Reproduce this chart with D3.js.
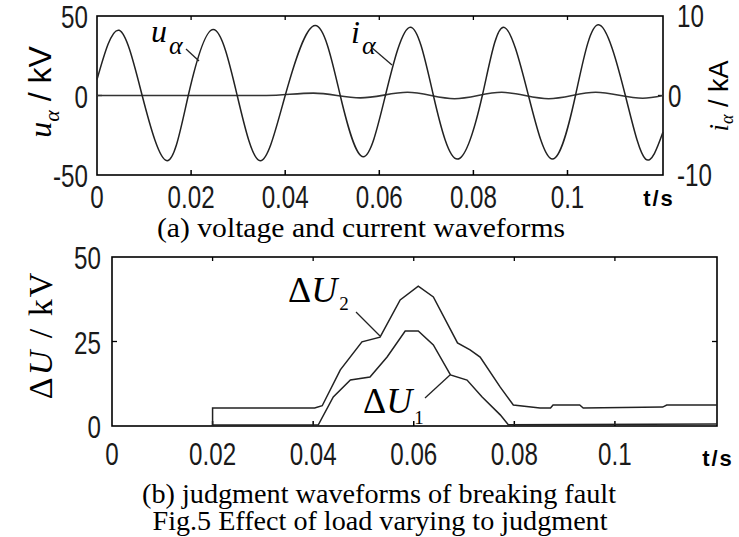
<!DOCTYPE html>
<html lang="en">
  <head>
    <meta charset="UTF-8" />
    <title>Fig.5 Effect of load varying to judgment</title>
    <script src="https://d3js.org/d3.v7.min.js"></script>
    <style>
      body { margin: 0; background: #fff; }
      .tick-label { font-family: "Liberation Sans", Arial, sans-serif; font-size: 31px; fill: #1a1a1a; }
      .caption { font-family: "Liberation Serif", "Times New Roman", serif; font-size: 27px; fill: #000; }
    </style>
  </head>
  <body>
    <div id="viz"></div>
    <script>
      // ---- data ----
      // (a) voltage u_a (kV): peaks, troughs and zero crossings
      const uTime = [0, 0.0047, 0.0096, 0.0149, 0.0194, 0.0247, 0.0298, 0.0347, 0.0400, 0.0464, 0.0517, 0.0566,
        0.0613, 0.0666, 0.0715, 0.0766, 0.0819, 0.0864, 0.0917, 0.0968, 0.1017, 0.1066, 0.1123, 0.1166, 0.1203];
      const uVolt = [10, 41, 0, -41, 0, 41.5, 0, -41, 0, 44, 0, -38.5,
        0, 43, 0, -40, 0, 43, 0, -40, 0, 44.5, 0, -40, -23];

      // (a) current i_a (kA), right axis
      const iTime = [0, 0.036, 0.046, 0.056, 0.066, 0.076, 0.086, 0.096, 0.106, 0.116, 0.1203];
      const iAmp = [0, 0, 0.3, -0.3, 0.4, -0.4, 0.4, -0.4, 0.4, -0.35, 0];

      // (b) judgment waveforms (kV)
      const du2Time = [0.02, 0.02, 0.0403, 0.0418, 0.0454, 0.0497, 0.0533, 0.0573, 0.0609, 0.0639, 0.0687, 0.0712,
        0.0732, 0.0772, 0.0798, 0.0851, 0.0872, 0.0877, 0.0930, 0.0937, 0.1095, 0.1103, 0.1203];
      const du2Val = [0, 5.3, 5.3, 6, 16.6, 24.9, 26.3, 37.3, 41.4, 38.2, 24.6, 22.5,
        20.4, 11.5, 6.2, 5.3, 5.3, 6.2, 6.2, 5.3, 5.6, 6.2, 6.2];

      const du1Time = [0.02, 0.041, 0.044, 0.0474, 0.0513, 0.0547, 0.0583, 0.0609, 0.0639, 0.0673, 0.0706,
        0.0736, 0.0772, 0.0788, 0.1203];
      const du1Val = [0.3, 0.3, 8.6, 13.6, 14.5, 20.4, 28.1, 28.1, 24, 15.1, 13.6, 8.6, 3.3, 0.4, 0.6];

      const xTicks = [0, 0.02, 0.04, 0.06, 0.08, 0.1];
      const xTickLabels = ["0", "0.02", "0.04", "0.06", "0.08", "0.1"];
      const uTicks = [-50, 0, 50];
      const iTicks = [-10, 0, 10];
      const duTicks = [0, 25, 50];

      const W = 739, H = 537;
      const svg = d3.select("#viz").append("svg").attr("width", W).attr("height", H);

      const tMax = 0.1203;

      // top panel
      const xa = d3.scaleLinear().domain([0, tMax]).range([97, 663]);
      const ya = d3.scaleLinear().domain([-50, 50]).range([175, 16]);
      const yi = d3.scaleLinear().domain([-10, 10]).range([175, 16]);

      // bottom panel
      const xb = d3.scaleLinear().domain([0, tMax]).range([112, 717]);
      const yb = d3.scaleLinear().domain([0, 50]).range([426, 257]);

      function frame(x, y, yTicks) {
        const g = svg.append("g");
        const [x0, x1] = x.range(), [y0, y1] = y.range();
        g.append("rect")
          .attr("x", x0).attr("y", y1)
          .attr("width", x1 - x0).attr("height", y0 - y1)
          .attr("fill", "none").attr("stroke", "#000").attr("stroke-width", 1.6);
        // inward ticks, top and bottom
        xTicks.slice(1).forEach(t => {
          g.append("line").attr("x1", x(t)).attr("x2", x(t)).attr("y1", y0).attr("y2", y0 - 5)
            .attr("stroke", "#000").attr("stroke-width", 1.5);
          g.append("line").attr("x1", x(t)).attr("x2", x(t)).attr("y1", y1).attr("y2", y1 + 4)
            .attr("stroke", "#000").attr("stroke-width", 1.3);
        });
        yTicks.slice(1, -1).forEach(v => {
          g.append("line").attr("x1", x0).attr("x2", x0 + 5).attr("y1", y(v)).attr("y2", y(v))
            .attr("stroke", "#000").attr("stroke-width", 1.3);
          g.append("line").attr("x1", x1).attr("x2", x1 - 5).attr("y1", y(v)).attr("y2", y(v))
            .attr("stroke", "#000").attr("stroke-width", 1.3);
        });
        return g;
      }

      frame(xa, ya, uTicks);
      frame(xb, yb, duTicks);

      // condensed tick label: the original digits are narrow
      function tickText(x, y, anchor, str) {
        svg.append("text").attr("class", "tick-label")
          .attr("transform", "translate(" + x + "," + y + ") scale(0.78,1)")
          .attr("text-anchor", anchor)
          .text(str);
      }

      xTicks.forEach((t, i) => tickText(xa(t), 208, "middle", xTickLabels[i]));
      xTicks.forEach((t, i) => tickText(xb(t), 465, "middle", xTickLabels[i]));
      uTicks.forEach(v => tickText(88, ya(v) + 12, "end", v));
      iTicks.forEach(v => tickText(v === 0 ? 668 : 677, yi(v) + 11, "start", v));
      duTicks.forEach(v => tickText(101, yb(v) + 12, "end", v));

      // t/s unit labels
      [[659, 206], [718, 466]].forEach(p => {
        svg.append("text")
          .attr("x", p[0]).attr("y", p[1]).attr("text-anchor", "middle")
          .style("font-family", "'Liberation Sans', Arial, sans-serif").style("font-size", "22px")
          .style("font-weight", "bold").style("letter-spacing", "2px")
          .text("t/s");
      });

      // curves
      const lineA = d3.line().x(d => xa(d[0])).y(d => ya(d[1])).curve(d3.curveNatural);
      const lineI = d3.line().x(d => xa(d[0])).y(d => yi(d[1])).curve(d3.curveMonotoneX);
      const lineB = d3.line().x(d => xb(d[0])).y(d => yb(d[1]));

      svg.append("path").datum(d3.zip(iTime, iAmp)).attr("d", lineI)
        .attr("fill", "none").attr("stroke", "#333").attr("stroke-width", 1.6);
      svg.append("path").datum(d3.zip(uTime, uVolt)).attr("d", lineA)
        .attr("fill", "none").attr("stroke", "#222").attr("stroke-width", 1.5);

      svg.append("path").datum(d3.zip(du1Time, du1Val)).attr("d", lineB)
        .attr("fill", "none").attr("stroke", "#222").attr("stroke-width", 1.5);
      svg.append("path").datum(d3.zip(du2Time, du2Val)).attr("d", lineB)
        .attr("fill", "none").attr("stroke", "#222").attr("stroke-width", 1.5);

      // in-plot labels with leader lines
      function leader(x1, y1, x2, y2) {
        svg.append("line").attr("x1", x1).attr("y1", y1).attr("x2", x2).attr("y2", y2)
          .attr("stroke", "#222").attr("stroke-width", 1.3);
      }
      function subLabel(x, y, main, sub, size, subSize, dy, mainItalic, subItalic) {
        const t = svg.append("text").attr("x", x).attr("y", y)
          .style("font-family", "'Liberation Serif', 'Times New Roman', serif").style("font-size", size + "px");
        if (mainItalic) {
          t.append("tspan").style("font-style", "italic").text(main);
        } else {
          t.append("tspan").text(main.charAt(0));
          t.append("tspan").style("font-style", "italic").text(main.slice(1));
        }
        t.append("tspan").attr("dy", dy).attr("dx", 2).style("font-size", subSize + "px")
          .style("font-style", subItalic ? "italic" : "normal").text(sub);
      }

      subLabel(151, 42, "u", "α", 32, 26, 12, true, true);
      leader(186, 49, 199, 61);
      subLabel(351, 43, "i", "α", 32, 26, 11, true, true);
      leader(371, 47, 392, 65);

      subLabel(288, 302, "\u0394U", "2", 36, 19, 8, false, false);
      leader(356, 312, 380, 336);
      subLabel(363, 413, "\u0394U", "1", 36, 19, 11, false, false);
      leader(425, 398, 450, 375);

      // axis titles
      const tA = svg.append("text").attr("transform", "translate(51,92) rotate(-90)")
        .attr("text-anchor", "middle").style("font-size", "32px");
      tA.append("tspan").style("font-family", "'Liberation Serif', serif").style("font-style", "italic").text("u");
      tA.append("tspan").attr("dy", 8).style("font-family", "'Liberation Serif', serif")
        .style("font-style", "italic").style("font-size", "22px").text("α");
      tA.append("tspan").attr("dy", -8).style("font-family", "'Liberation Sans', sans-serif").text(" / kV");

      const tI = svg.append("text").attr("transform", "translate(728,96) rotate(-90)")
        .attr("text-anchor", "middle").style("font-size", "27px");
      tI.append("tspan").style("font-family", "'Liberation Serif', serif").style("font-style", "italic").text("i");
      tI.append("tspan").attr("dy", 5).style("font-family", "'Liberation Serif', serif")
        .style("font-style", "italic").style("font-size", "18px").text("α");
      tI.append("tspan").attr("dy", -5).style("font-family", "'Liberation Sans', sans-serif").text(" / kA");

      const tB = svg.append("text").attr("transform", "translate(52,335) rotate(-90)")
        .attr("text-anchor", "middle").style("font-family", "'Liberation Serif', serif")
        .style("font-size", "34px").style("letter-spacing", "2px");
      tB.append("tspan").text("\u0394");
      tB.append("tspan").style("font-style", "italic").text("U");
      tB.append("tspan").text(" / kV");

      // captions
      const captions = [
        ["(a) voltage and current waveforms", 361, 237, 408],
        ["(b) judgment waveforms of breaking fault", 379, 503, 474],
        ["Fig.5 Effect of load varying to judgment", 380, 530, 455]
      ];
      captions.forEach(c => {
        svg.append("text").attr("class", "caption")
          .attr("x", c[1]).attr("y", c[2]).attr("text-anchor", "middle")
          .attr("textLength", c[3]).attr("lengthAdjust", "spacingAndGlyphs")
          .text(c[0]);
      });
    </script>
  </body>
</html>
